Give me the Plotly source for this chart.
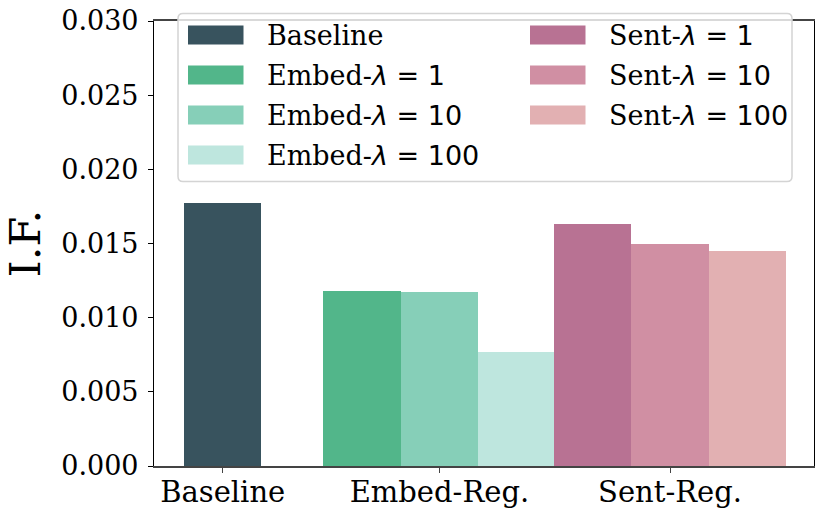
import plotly.graph_objects as go

# ---------------- data ----------------
categories = ["Baseline", "Embed-Reg.", "Sent-Reg."]
series_prefix = ["Baseline", "Embed", "Embed", "Embed", "Sent", "Sent", "Sent"]
series_lambda = [None, "1", "10", "100", "1", "10", "100"]
series_category = [0, 1, 1, 1, 2, 2, 2]
if_values = [0.0177, 0.0118, 0.0117, 0.0077, 0.0163, 0.0150, 0.0145]
y_tick_values = [0.000, 0.005, 0.010, 0.015, 0.020, 0.025, 0.030]
y_tick_labels = ["0.000", "0.005", "0.010", "0.015", "0.020", "0.025", "0.030"]
colors = ["#38535E", "#52B68A", "#86CFB8", "#BEE6DE", "#B87293", "#D08FA3", "#E2B0B2"]

# ---------------- layout helpers ----------------
SERIF = "DejaVu Serif"
SANS = "DejaVu Sans"
W, H = 830, 519
# plot-area edges in window pixels
L, R, T, B = 154, 814, 21, 466
group_centers = [0.0, 2.8, 5.78]
bar_width = 1.0
x_range = [-0.8876, 7.64]


def label_html(prefix, lam):
    if lam is None:
        return prefix
    return f"{prefix}-<span style=\"font-family:{SANS}\"><i>λ</i> = {lam}</span>"


def plain_label(prefix, lam):
    return prefix if lam is None else f"{prefix}-λ = {lam}"


# bar positions derived from group structure
positions = []
for i, c in enumerate(series_category):
    members = [j for j, cc in enumerate(series_category) if cc == c]
    k = members.index(i)
    n = len(members)
    positions.append(group_centers[c] + (k - (n - 1) / 2) * bar_width)

fig = go.Figure()
for i in range(len(if_values)):
    fig.add_trace(go.Bar(
        x=[positions[i]], y=[if_values[i]], width=bar_width,
        name=plain_label(series_prefix[i], series_lambda[i]),
        marker=dict(color=colors[i], line=dict(width=0)),
        showlegend=False,
    ))


def px2x(px):
    return (px - L) / (R - L)


def py2y(py):
    return (B - py) / (B - T)


# ---------------- legend (frame + patches + labels) ----------------
shapes = []
annotations = []
fx0, fx1, fy0, fy1 = 178, 792, 13.5, 181.5
rad = 5
X0, X1 = px2x(fx0), px2x(fx1)
Y0, Y1 = py2y(fy1), py2y(fy0)
rx, ry = rad / (R - L), rad / (B - T)
path = (f"M{X0+rx},{Y1} L{X1-rx},{Y1} Q{X1},{Y1} {X1},{Y1-ry} "
        f"L{X1},{Y0+ry} Q{X1},{Y0} {X1-rx},{Y0} L{X0+rx},{Y0} "
        f"Q{X0},{Y0} {X0},{Y0+ry} L{X0},{Y1-ry} Q{X0},{Y1} {X0+rx},{Y1} Z")
shapes.append(dict(type="path", xref="paper", yref="paper", path=path,
                   fillcolor="rgba(255,255,255,0.8)",
                   line=dict(color="#d4d4d4", width=1.5), layer="above"))

col_patch_x = [(188, 243.5), (530, 585.5)]
col_text_x = [266, 608]
row_y = [35, 75, 115, 155]
patch_h = 19
col_of = [0, 0, 0, 0, 1, 1, 1]
row_of = [0, 1, 2, 3, 0, 1, 2]
for i in range(len(if_values)):
    c, r = col_of[i], row_of[i]
    cy = row_y[r]
    shapes.append(dict(type="rect", xref="paper", yref="paper",
                       x0=px2x(col_patch_x[c][0]), x1=px2x(col_patch_x[c][1]),
                       y0=py2y(cy + patch_h / 2), y1=py2y(cy - patch_h / 2),
                       fillcolor=colors[i], line=dict(width=0), layer="above"))
    annotations.append(dict(xref="paper", yref="paper",
                            x=px2x(col_text_x[c] - 1), y=py2y(cy + 1),
                            xanchor="left", yanchor="middle", showarrow=False,
                            text=label_html(series_prefix[i], series_lambda[i]),
                            font=dict(family=SERIF, size=27, color="black")))

fig.update_layout(
    width=W, height=H,
    margin=dict(l=L, r=W - R, t=T, b=H - B, autoexpand=False),
    paper_bgcolor="white", plot_bgcolor="white",
    bargap=0, barmode="overlay",
    font=dict(family=SERIF, size=27, color="black"),
    shapes=shapes, annotations=annotations,
    xaxis=dict(
        range=x_range, tickmode="array", tickvals=group_centers, ticktext=categories,
        showgrid=False, zeroline=False, showline=True, linecolor="#444444", linewidth=1.8,
        mirror=True, ticks="outside", ticklen=5, tickwidth=1.2, tickcolor="#444444",
        tickfont=dict(family=SERIF, size=29, color="black"),
        ticklabelstandoff=-6, ticklabeloverflow="allow",
    ),
    yaxis=dict(
        range=[0, 0.030], tickmode="array", tickvals=y_tick_values, ticktext=y_tick_labels,
        showgrid=False, zeroline=False, showline=True, linecolor="black", linewidth=1.2,
        mirror=True, ticks="outside", ticklen=5, tickwidth=1.2, tickcolor="black",
        tickfont=dict(family=SERIF, size=27, color="black"),
        ticklabelstandoff=4, ticklabeloverflow="allow",
        title=dict(text="I.F.", font=dict(family=SERIF, size=43, color="black"), standoff=12),
    ),
)

# remove the default 8px page margin so the figure sits at the window origin
fig.write_html(
    "out.html",
    config={"displayModeBar": False},
    post_script="document.body.style.margin='0px';document.body.style.overflow='hidden';",
)
